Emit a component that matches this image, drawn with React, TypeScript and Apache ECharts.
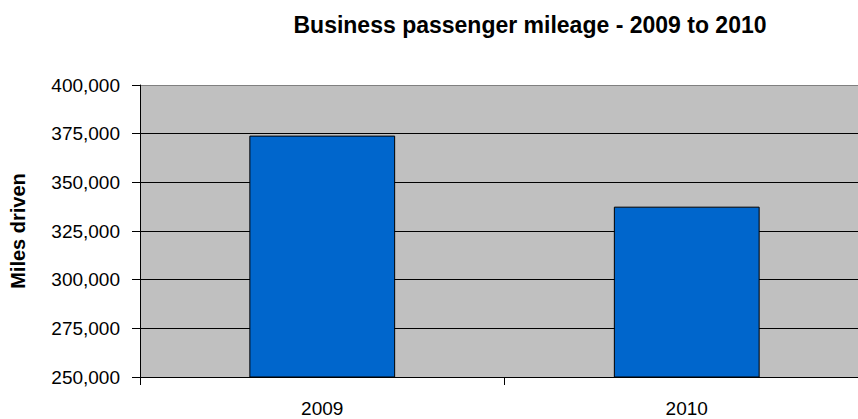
import React, { useEffect, useRef } from "react";
import * as echarts from "echarts";

const categories = ["2009", "2010"];
const milesDriven = [374000, 337500];
const yTicks = { min: 250000, max: 400000, interval: 25000 };
const titleText = "Business passenger mileage - 2009 to 2010";
const yAxisName = "Miles driven";

const FONT = "Liberation Sans, Arial, sans-serif";

export default function App() {
  const ref = useRef<HTMLDivElement>(null);
  useEffect(() => {
    document.body.style.margin = "0";
    document.body.style.overflow = "hidden";
    if (!ref.current) return;
    const chart = echarts.init(ref.current, null, { renderer: "svg" });
    chart.setOption({
      animation: false,
      backgroundColor: "#ffffff",
      textStyle: { fontFamily: FONT },
      graphic: [
        {
          type: "text",
          x: 530,
          y: 25,
          style: {
            text: titleText,
            font: `bold 23px ${FONT}`,
            fill: "#000",
            textAlign: "center",
            textVerticalAlign: "middle",
          },
        },
      ],
      grid: {
        left: 138,
        top: 85,
        bottom: 42,
        right: 0,
        show: true,
        backgroundColor: "#c0c0c0",
        borderWidth: 0,
        containLabel: false,
      },
      xAxis: {
        type: "category",
        data: categories,
        axisLine: { show: true, lineStyle: { color: "#000", width: 1 } },
        axisTick: { show: true, length: 8, lineStyle: { color: "#000" } },
        axisLabel: { color: "#000", fontSize: 19, fontFamily: FONT, margin: 22 },
        splitLine: { show: false },
      },
      yAxis: {
        type: "value",
        min: yTicks.min,
        max: yTicks.max,
        interval: yTicks.interval,
        name: yAxisName,
        nameLocation: "middle",
        nameRotate: 90,
        nameGap: 112,
        nameTextStyle: { color: "#000", fontSize: 20, fontWeight: "bold", fontFamily: FONT },
        axisLine: { show: true, lineStyle: { color: "#000", width: 1 } },
        axisTick: { show: true, length: 8, lineStyle: { color: "#000" } },
        axisLabel: {
          color: "#000",
          fontSize: 19,
          fontFamily: FONT,
          margin: 20,
          formatter: (v: number) => v.toLocaleString("en-US"),
        },
        splitLine: {
          show: true,
          lineStyle: {
            color: ["#000", "#000", "#000", "#000", "#000", "#000", "#808080"],
            width: 1,
          },
        },
      },
      series: [
        {
          type: "bar",
          data: milesDriven,
          barWidth: "40%",
          itemStyle: { color: "#0066cc", borderColor: "#000", borderWidth: 1 },
        },
      ],
    });
    return () => chart.dispose();
  }, []);
  return (
    <div style={{ width: 858, height: 419, overflow: "hidden" }}>
      <div ref={ref} style={{ width: 869, height: 419 }} />
    </div>
  );
}
